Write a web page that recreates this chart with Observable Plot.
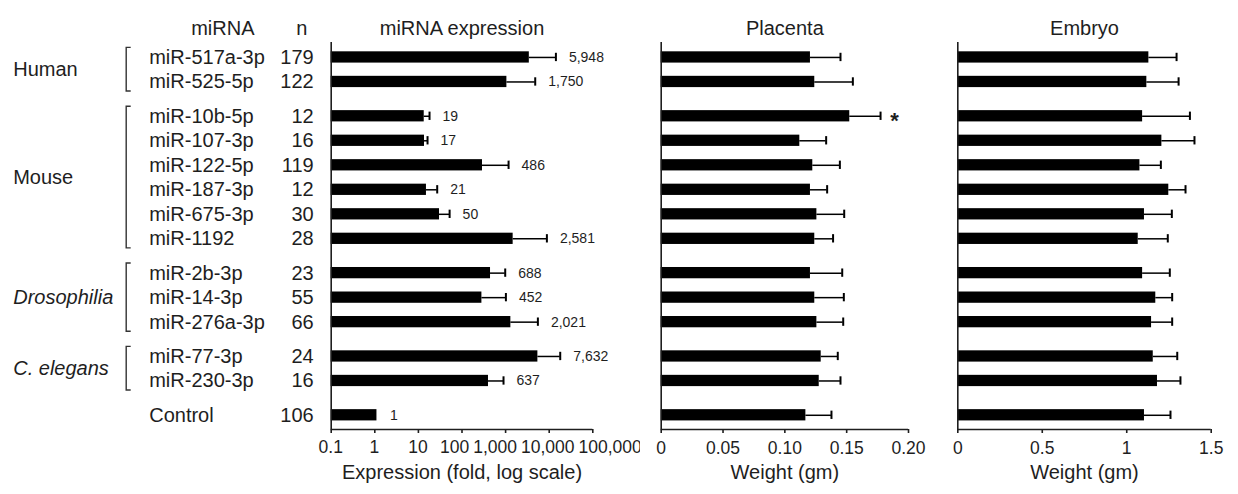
<!DOCTYPE html>
<html><head><meta charset="utf-8">
<script src="https://cdn.jsdelivr.net/npm/d3@7"></script>
<script src="https://cdn.jsdelivr.net/npm/@observablehq/plot@0.6"></script>
<style>
html,body{margin:0;padding:0;background:#fff;}
#chart{display:flex;width:1238px;height:494px;}
#chart svg{display:block;overflow:visible;}
</style></head><body><div id="chart"></div>
<script>
// ---------------- data ----------------
const mirnas = ["miR-517a-3p","miR-525-5p","miR-10b-5p","miR-107-3p","miR-122-5p","miR-187-3p","miR-675-3p","miR-1192","miR-2b-3p","miR-14-3p","miR-276a-3p","miR-77-3p","miR-230-3p","Control"];
const species = ["Human","Human","Mouse","Mouse","Mouse","Mouse","Mouse","Mouse","Drosophilia","Drosophilia","Drosophilia","C. elegans","C. elegans","Control"];
const genusNames = ["Drosophilia","C. elegans"];
const nValues = [179,122,12,16,119,12,30,28,23,55,66,24,16,106];
const exprBar   = [3500,1070,13.6,13.8,295,15.3,30.5,1490,451,286,1320,5500,405,1.12];
const exprUpper = [14250,4780,18,16.2,1170,27,52,8850,980,1016,5500,17900,896,null];
const exprLabels = ["5,948","1,750","19","17","486","21","50","2,581","688","452","2,021","7,632","637","1"];
const placentaBar   = [0.1207,0.1242,0.1525,0.1121,0.1226,0.1207,0.1259,0.1242,0.1207,0.1242,0.1259,0.1294,0.1278,0.1170];
const placentaUpper = [0.1450,0.1550,0.1774,0.1334,0.1445,0.1342,0.1480,0.1390,0.1464,0.1477,0.1472,0.1428,0.1450,0.1377];
const placentaSig = ["","","*","","","","","","","","","","",""];
const embryoBar   = [1.131,1.119,1.094,1.208,1.078,1.249,1.105,1.068,1.094,1.172,1.147,1.157,1.182,1.105];
const embryoUpper = [1.295,1.307,1.374,1.401,1.202,1.348,1.267,1.243,1.255,1.269,1.269,1.299,1.318,1.259];
const exprTicks = [0.1,1,10,100,1000,10000,100000];
const exprTickLabels = ["0.1","1","10","100","1,000","10,000","100,000"];
const placentaTicks = [0,0.05,0.10,0.15,0.20];
const placentaTickLabels = ["0","0.05","0.10","0.15","0.20"];
const embryoTicks = [0,0.5,1,1.5];
const embryoTickLabels = ["0","0.5","1","1.5"];
const headers = ["miRNA","n"];
const panelTitles = ["miRNA expression","Placenta","Embryo"];
const axisTitles = ["Expression (fold, log scale)","Weight (gm)","Weight (gm)"];

// ---------------- layout helpers ----------------
const FONT = "'Liberation Sans', Arial, Helvetica, sans-serif";
const INK = "#1e1e1e";
const GAP = 0.4;        // extra space between species groups (in rows)
const HALF = 0.23;      // half bar thickness (in rows)
const CAP = 0.17;       // half error-cap height (in rows)
const H = 494, MT = 42, MB = 65;
const TICK = 4, TICKPAD = 8, TICKFONT = 17.5;

let gi = -1, prev = null;
const rows = mirnas.map((name, i) => {
  if (species[i] !== prev) { gi++; prev = species[i]; }
  return {name, species: species[i], n: String(nValues[i]), slot: i + GAP * gi,
    exprBar: exprBar[i], exprUpper: exprUpper[i], exprLabel: exprLabels[i],
    placentaBar: placentaBar[i], placentaUpper: placentaUpper[i], sig: placentaSig[i],
    embryoBar: embryoBar[i], embryoUpper: embryoUpper[i]};
});
const lastSlot = rows[rows.length - 1].slot;
const yDomain = [lastSlot + 0.58, -0.61];
const groups = d3.groups(rows, d => d.species)
  .filter(([k, v]) => v.length > 1 || k !== "Control")
  .map(([k, v]) => ({label: k, y1: v[0].slot, y2: v[v.length - 1].slot, mid: (v[0].slot + v[v.length - 1].slot) / 2, italic: genusNames.includes(k)}));

function bracketMark(index, scales, values, dims) {
  const g = d3.create("svg:g").attr("stroke", "#333").attr("stroke-width", 1.4).attr("fill", "none");
  const bx = dims.marginLeft - 204.5, tip = 4.5;
  for (const grp of groups) {
    const a = scales.y(grp.y1 - 0.39), b = scales.y(grp.y2 + 0.39);
    g.append("path").attr("d", `M${bx + tip},${a}H${bx}V${b}H${bx + tip}`);
  }
  return g.node();
}

function exprTickText(index, scales, values, dims) {
  const g = d3.create("svg:g").attr("font-size", TICKFONT).attr("text-anchor", "middle").attr("fill", INK).attr("font-family", FONT);
  const ctx = document.createElement("canvas").getContext("2d");
  ctx.font = TICKFONT + "px " + FONT;
  const items = exprTicks.map((t, i) => ({p: scales.x(t), w: ctx.measureText(exprTickLabels[i]).width, s: exprTickLabels[i]}));
  const gap = 4;
  for (let k = 0; k < 200; k++) {
    for (let i = 0; i < items.length - 1; i++) {
      const a = items[i], b = items[i + 1];
      const ov = a.p + a.w / 2 + gap - (b.p - b.w / 2);
      if (ov > 0) { a.p -= ov / 2; b.p += ov / 2; }
    }
  }
  const y = dims.height - dims.marginBottom + TICK + TICKPAD;
  for (const it of items) g.append("text").attr("x", it.p).attr("y", y).attr("dy", "0.71em").text(it.s);
  return g.node();
}

function common(width, ml, mr, xScale, marks) {
  return Plot.plot({
    width, height: H, marginTop: MT, marginBottom: MB, marginLeft: ml, marginRight: mr,
    style: {fontFamily: FONT, fontSize: TICKFONT + "px", color: INK, background: "white", overflow: "visible"},
    x: xScale,
    y: {type: "linear", domain: yDomain, axis: null},
    marks
  });
}

const titleMarks = (i) => [
  Plot.text([panelTitles[i]], {text: d => d, frameAnchor: "top", dy: -22, fontSize: 20, fill: INK}),
  Plot.text([axisTitles[i]], {text: d => d, frameAnchor: "bottom", dy: 49.5, fontSize: 20, fill: INK})
];

// ---------------- panel 1: expression (with row labels) ----------------
const withErr = rows.filter(d => d.exprUpper != null);
const chart1 = common(640, 330.7, 47.7, {type: "log", domain: [exprTicks[0], exprTicks[exprTicks.length - 1]]}, [
  Plot.rectX(rows, {x1: () => exprTicks[0], x2: "exprBar", y1: d => d.slot - HALF, y2: d => d.slot + HALF, fill: "black"}),
  Plot.ruleY(withErr, {y: "slot", x1: "exprBar", x2: "exprUpper", stroke: "black", strokeWidth: 1.5}),
  Plot.ruleX(withErr, {x: "exprUpper", y1: d => d.slot - CAP, y2: d => d.slot + CAP, stroke: "black", strokeWidth: 2}),
  Plot.text(rows, {x: d => d.exprUpper ?? d.exprBar, y: "slot", text: "exprLabel", dx: 13, textAnchor: "start", fontSize: 14, fill: INK}),
  Plot.ruleX([exprTicks[0]], {stroke: INK, strokeWidth: 1.6}),
  Plot.ruleY([yDomain[0]], {stroke: INK, strokeWidth: 1.6}),
  Plot.axisX({ticks: exprTicks, tickSize: TICK, tickFormat: () => "", label: null, stroke: INK, strokeWidth: 1.6}),
  exprTickText,
  ...titleMarks(0),
  // row labels in the left margin
  Plot.text(rows, {y: "slot", text: "name", frameAnchor: "left", dx: -182, textAnchor: "start", fontSize: 20, fill: INK}),
  Plot.text(rows, {y: "slot", text: "n", frameAnchor: "left", dx: -17.5, textAnchor: "end", fontSize: 20, fill: INK}),
  Plot.text(groups.filter(d => !d.italic), {y: "mid", text: "label", frameAnchor: "left", dx: -318, textAnchor: "start", fontSize: 20, fill: INK}),
  Plot.text(groups.filter(d => d.italic), {y: "mid", text: "label", frameAnchor: "left", dx: -318, textAnchor: "start", fontSize: 20, fill: INK, fontStyle: "italic"}),
  Plot.text([headers[0]], {text: d => d, frameAnchor: "top-left", dx: -140, dy: -22, fontSize: 20, fill: INK}),
  Plot.text([headers[1]], {text: d => d, frameAnchor: "top-left", dx: -35, dy: -22, fontSize: 20, fill: INK}),
  bracketMark
]);

// ---------------- panel 2: placenta ----------------
const chart2 = common(300, 20.7, 32, {type: "linear", domain: [placentaTicks[0], placentaTicks[placentaTicks.length - 1]]}, [
  Plot.rectX(rows, {x1: () => 0, x2: "placentaBar", y1: d => d.slot - HALF, y2: d => d.slot + HALF, fill: "black"}),
  Plot.ruleY(rows, {y: "slot", x1: "placentaBar", x2: "placentaUpper", stroke: "black", strokeWidth: 1.5}),
  Plot.ruleX(rows, {x: "placentaUpper", y1: d => d.slot - CAP, y2: d => d.slot + CAP, stroke: "black", strokeWidth: 2}),
  Plot.text(rows.filter(d => d.sig), {x: "placentaUpper", y: "slot", text: "sig", dx: 14, dy: 5, fontSize: 22, fontWeight: "bold", fill: INK}),
  Plot.ruleX([0], {stroke: INK, strokeWidth: 1.6}),
  Plot.ruleY([yDomain[0]], {stroke: INK, strokeWidth: 1.6}),
  Plot.axisX({ticks: placentaTicks, tickSize: TICK, tickPadding: TICKPAD, tickFormat: d => placentaTickLabels[placentaTicks.indexOf(d)], label: null, stroke: INK, strokeWidth: 1.6, fill: INK, fontSize: TICKFONT}),
  ...titleMarks(1)
]);

// ---------------- panel 3: embryo ----------------
const chart3 = common(298, 17.3, 27.3, {type: "linear", domain: [embryoTicks[0], embryoTicks[embryoTicks.length - 1]]}, [
  Plot.rectX(rows, {x1: () => 0, x2: "embryoBar", y1: d => d.slot - HALF, y2: d => d.slot + HALF, fill: "black"}),
  Plot.ruleY(rows, {y: "slot", x1: "embryoBar", x2: "embryoUpper", stroke: "black", strokeWidth: 1.5}),
  Plot.ruleX(rows, {x: "embryoUpper", y1: d => d.slot - CAP, y2: d => d.slot + CAP, stroke: "black", strokeWidth: 2}),
  Plot.ruleX([0], {stroke: INK, strokeWidth: 1.6}),
  Plot.ruleY([yDomain[0]], {stroke: INK, strokeWidth: 1.6}),
  Plot.axisX({ticks: embryoTicks, tickSize: TICK, tickPadding: TICKPAD, tickFormat: d => embryoTickLabels[embryoTicks.indexOf(d)], label: null, stroke: INK, strokeWidth: 1.6, fill: INK, fontSize: TICKFONT}),
  ...titleMarks(2)
]);

const root = document.getElementById("chart");
root.append(chart1, chart2, chart3);
</script>
</body></html>
